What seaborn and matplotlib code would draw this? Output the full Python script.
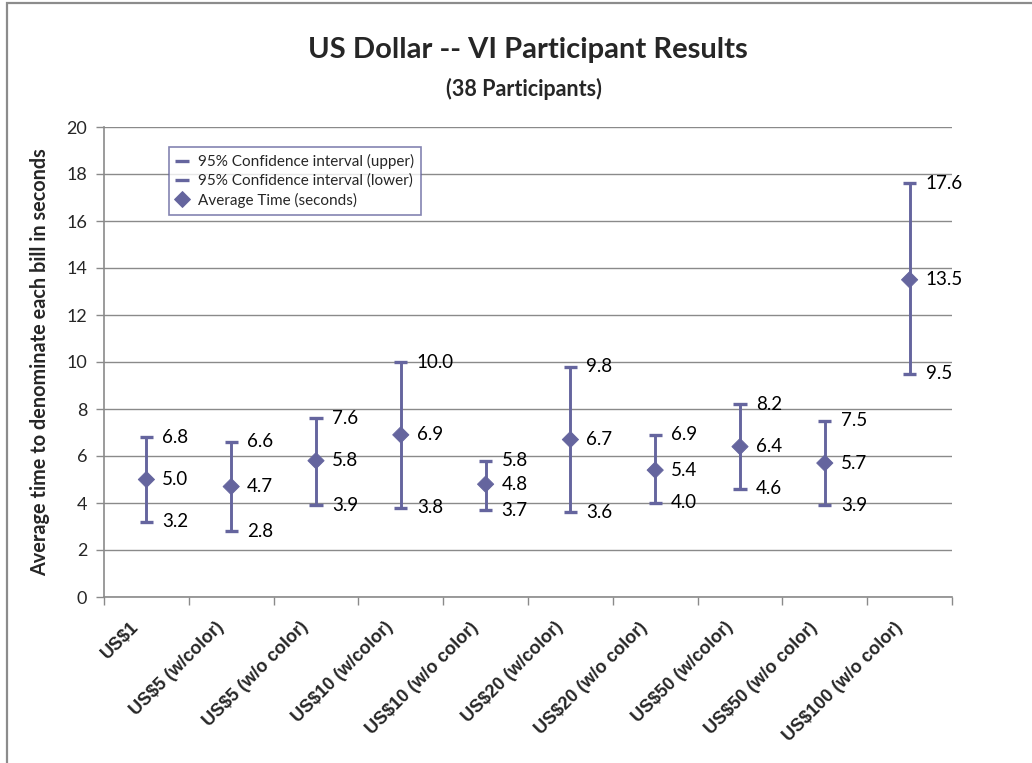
import numpy as np
import pandas as pd
import matplotlib
matplotlib.use("Agg")
import matplotlib.pyplot as plt
import matplotlib.transforms as mtransforms
import seaborn as sns
from matplotlib.patches import Rectangle

# ============================================================
# DATA
# ============================================================
bills = ['US$1', 'US$5 (w/color)', 'US$5 (w/o color)', 'US$10 (w/color)',
         'US$10 (w/o color)', 'US$20 (w/color)', 'US$20 (w/o color)',
         'US$50 (w/color)', 'US$50 (w/o color)', 'US$100 (w/o color)']
ci_upper = [6.8, 6.6, 7.6, 10.0, 5.8, 9.8, 6.9, 8.2, 7.5, 17.6]
ci_lower = [3.2, 2.8, 3.9, 3.8, 3.7, 3.6, 4.0, 4.6, 3.9, 9.5]
avg_time = [5.0, 4.7, 5.8, 6.9, 4.8, 6.7, 5.4, 6.4, 5.7, 13.5]

lab_upper = '95% Confidence interval (upper)'
lab_lower = '95% Confidence interval (lower)'
lab_avg = 'Average Time (seconds)'

df_ci = pd.DataFrame({
    'bill': bills * 2,
    'value': ci_upper + ci_lower,
    'series': [lab_upper] * len(bills) + [lab_lower] * len(bills),
})
df_avg = pd.DataFrame({'bill': bills, 'value': avg_time, 'series': lab_avg})

# ============================================================
# STYLE
# ============================================================
sns.set_theme(style='white')
body_font = ['Lato', 'DejaVu Sans']
tick_font = ['Liberation Sans', 'DejaVu Sans']
plt.rcParams['font.family'] = body_font
col = '#65659E'
grid_col = '#8A8A8A'

fig = plt.figure(figsize=(10.32, 7.63), dpi=100)
ax = fig.add_axes([104 / 1032, 1 - 597 / 763, 848 / 1032, 470 / 763])

# outer chart border (cropped on the right and bottom)
fig.patches.append(Rectangle((7 / 1032, -0.1), 1.2, (763 - 3) / 763 + 0.1,
                             transform=fig.transFigure, fill=False,
                             edgecolor='#8C8C8C', linewidth=1.6, zorder=0))

# high-low lines
pos = np.arange(len(bills))
ax.vlines(pos, ci_lower, ci_upper, color=col, linewidth=2.1, zorder=3)

sns.scatterplot(data=df_ci, x='bill', y='value', hue='series',
                palette=[col, col], marker='_', s=90, linewidth=2.4,
                ax=ax, zorder=4)
sns.scatterplot(data=df_avg, x='bill', y='value', hue='series',
                palette=[col], marker='D', s=68, edgecolor=col,
                ax=ax, zorder=5)

# data labels
for i in range(len(bills)):
    for v in (ci_upper[i], avg_time[i], ci_lower[i]):
        ax.annotate(f'{v:.1f}', (i, v), xytext=(11.5, 0),
                    textcoords='offset points', ha='left', va='center',
                    fontsize=13.5, color='black', family=body_font)

# axes
ax.set_xlim(-0.5, len(bills) - 0.5)
ax.set_ylim(0, 20)
ax.set_yticks(np.arange(0, 21, 2))
ax.set_xticks(pos)
ax.set_xticks(np.arange(-0.5, len(bills), 1), minor=True)
ax.tick_params(axis='x', which='major', length=0, pad=20)
ax.tick_params(axis='x', which='minor', length=6, width=1, color=grid_col,
               direction='out', bottom=True)
ax.tick_params(axis='y', length=6, width=1, color=grid_col, direction='out',
               left=True, labelsize=13, pad=6)
ax.set_xticklabels(bills, rotation=45, ha='right', va='center',
                   rotation_mode='anchor', fontsize=13, fontweight='bold',
                   family=tick_font)
# nudge the slanted labels a little to the left of the category centre
shift = mtransforms.ScaledTranslation(-10 / 100, 0, fig.dpi_scale_trans)
for lbl in ax.get_xticklabels():
    lbl.set_transform(lbl.get_transform() + shift)
for lbl in ax.get_yticklabels():
    lbl.set_family(body_font)
ax.yaxis.grid(True, color=grid_col, linewidth=1)
ax.set_axisbelow(True)
for s in ('top', 'right'):
    ax.spines[s].set_visible(False)
for s in ('left', 'bottom'):
    ax.spines[s].set_color(grid_col)
    ax.spines[s].set_linewidth(1.2)
ax.set_xlabel('')
ax.set_ylabel('Average time to denominate each bill in seconds',
              fontsize=14.3, fontweight='bold', labelpad=12)

# legend
handles, labels = ax.get_legend_handles_labels()
leg = ax.legend(handles, labels, loc='upper left',
                bbox_to_anchor=(0.077, 0.957), fontsize=11,
                frameon=True, fancybox=False, handlelength=0.8,
                handletextpad=0.6, borderpad=0.45, labelspacing=0.3,
                borderaxespad=0)
leg.get_frame().set_edgecolor(col)
leg.get_frame().set_linewidth(1.2)

# titles
fig.text(528 / 1032, 1 - 50 / 763, 'US Dollar -- VI Participant Results',
         ha='center', va='center', fontsize=21, fontweight='bold')
fig.text(524 / 1032, 1 - 89 / 763, '(38 Participants)',
         ha='center', va='center', fontsize=15.5, fontweight='bold')

fig.savefig('out.png', dpi=100)
